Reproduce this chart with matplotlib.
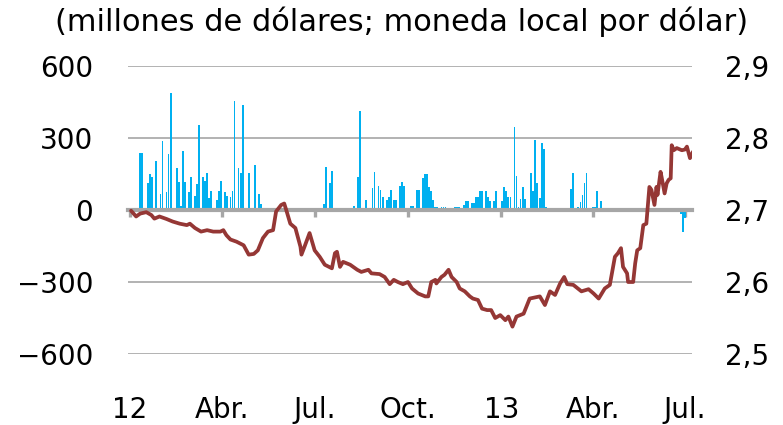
import pandas as pd
import matplotlib
matplotlib.use("Agg")
import matplotlib.pyplot as plt

plt.rcParams["font.family"] = ["DejaVu Sans"]

# days counted from 2012-01-01
base_date = pd.Timestamp("2012-01-01")

# net flows, millions of dollars (left axis)
flow_day = [10, 12, 18, 20, 22, 26, 30, 32, 36, 38, 40, 46, 48, 50, 52, 54, 58, 60,
            64, 66, 68, 72, 74, 76, 78, 80, 86, 88, 90, 94, 96, 99, 101, 103, 107,
            109, 111, 117, 123, 127, 129,
            191, 193, 197, 199, 221, 225, 227, 233, 239, 241, 245, 247, 249, 253,
            255, 257, 260, 262, 266, 268, 270, 277, 279, 283, 285, 289, 291, 293,
            295, 297, 299, 301, 303, 307, 309, 311, 320, 322, 324, 329, 331, 333,
            337, 339, 341, 343, 345, 347, 351, 353, 355, 359, 361, 367, 369, 371,
            373, 375, 379, 381, 383, 385, 387, 389, 395, 397, 399, 401, 404, 406,
            408, 410, 413, 418, 422, 427, 435, 437, 442, 444, 446, 448, 450, 456,
            458, 460, 464, 468, 470, 543, 545, 547]
flow_value = [239, 239, 114, 149, 139, 205, 65, 288, 74, 232, 486, 174, 115, 17, 247,
              115, 74, 139, 58, 107, 354, 139, 122, 156, 49, 81, 40, 81, 122, 74, 58,
              56, 81, 456, 174, 156, 438, 156, 189, 65, 25,
              24, 180, 114, 164, 17, 139, 412, 42, 90, 157, 100, 83, 56, 42,
              56, 83, 42, 42, 100, 115, 100, 17, 17, 83, 83, 132, 150, 150,
              97, 80, 42, 11, 11, 11, 11, 11, 11, 11, 11, 22, 39, 39,
              28, 28, 53, 53, 78, 78, 78, 53, 39, 39, 78, 36, 94, 78,
              53, 53, 344, 143, 11, 46, 94, 46, 153, 81, 292, 111, 50, 278,
              253, 11, 4, 4, 4, 4, 87, 153, 14, 35, 62, 111, 156, 14,
              14, 81, 39, 5, 5, -15, -90, -35]

# exchange rate, local currency per dollar (right axis)
rate_day = [1, 6, 10, 16, 21, 24, 29, 36, 42, 49, 56, 59, 64, 70, 76, 82, 89, 92, 95,
            99, 105, 112, 117, 122, 126, 131, 136, 141, 144, 149, 152, 154, 158, 163,
            168, 169, 172, 177, 182, 187, 192, 199, 202, 204, 207, 210, 217, 224,
            228, 235, 238, 246, 251, 256, 260, 264, 269, 274, 278, 284, 291, 294,
            297, 301, 302, 307, 310, 314, 317, 322, 325, 330, 335, 338, 343, 347,
            352, 356, 360, 365, 370, 373, 377, 381, 388, 394, 404, 409, 414, 419,
            424, 428, 431, 437, 445, 452, 457, 462, 468, 473, 478, 481, 484, 486,
            490, 491, 496, 498, 500, 503, 506, 509, 512, 514, 517, 519, 520, 523,
            524, 527, 529, 531, 533, 534, 536, 539, 544, 547, 549, 552, 555]
rate_value = [2.699, 2.691, 2.695, 2.697, 2.693, 2.688, 2.691, 2.6875, 2.684, 2.681,
              2.679, 2.681, 2.675, 2.670, 2.672, 2.670, 2.670, 2.672, 2.665, 2.659,
              2.656, 2.651, 2.638, 2.639, 2.644, 2.661, 2.670, 2.672, 2.698, 2.707,
              2.709, 2.700, 2.681, 2.675, 2.649, 2.638, 2.649, 2.668, 2.644, 2.635,
              2.624, 2.619, 2.640, 2.642, 2.621, 2.628, 2.624, 2.617, 2.614, 2.617,
              2.612, 2.611, 2.607, 2.597, 2.603, 2.600, 2.597, 2.600, 2.591, 2.584,
              2.580, 2.580, 2.600, 2.603, 2.598, 2.607, 2.610, 2.617, 2.607, 2.600,
              2.591, 2.587, 2.580, 2.577, 2.575, 2.563, 2.561, 2.561, 2.550, 2.554,
              2.547, 2.552, 2.538, 2.552, 2.556, 2.577, 2.580, 2.568, 2.587, 2.582,
              2.598, 2.607, 2.597, 2.596, 2.587, 2.590, 2.584, 2.577, 2.591, 2.596,
              2.635, 2.640, 2.647, 2.621, 2.612, 2.600, 2.600, 2.626, 2.644, 2.647,
              2.679, 2.681, 2.732, 2.728, 2.707, 2.732, 2.721, 2.753, 2.746, 2.723,
              2.737, 2.742, 2.744, 2.790, 2.783, 2.786, 2.783, 2.784, 2.788, 2.772,
              2.781]

tick_dates = ["2012-01-01", "2012-04-01", "2012-07-01", "2012-10-01",
              "2013-01-01", "2013-04-01", "2013-07-01"]
tick_labels = ["12", "Abr.", "Jul.", "Oct.", "13", "Abr.", "Jul."]
left_ticks = [-600, -300, 0, 300, 600]
left_labels = ["\u2212600", "\u2212300", "0", "300", "600"]
right_ticks = [2.5, 2.6, 2.7, 2.8, 2.9]
right_labels = ["2,5", "2,6", "2,7", "2,8", "2,9"]
title = "(millones de dólares; moneda local por dólar)"

grey = "#A6A6A6"
bar_color = "#00B0F0"
line_color = "#953735"

flow_dates = base_date + pd.to_timedelta(flow_day, unit="D")
rate_dates = base_date + pd.to_timedelta(rate_day, unit="D")

fig = plt.figure(figsize=(7.83, 4.25), dpi=100)
ax = fig.add_axes([128 / 783, 71 / 425, 564 / 783, 288 / 425])

ax.bar(flow_dates, flow_value, width=1.8, color=bar_color, linewidth=0, zorder=2)
ax.set_ylim(-600, 600)
ax.set_xlim(base_date - pd.Timedelta(days=2), base_date + pd.Timedelta(days=554))
ax.set_yticks(left_ticks, labels=left_labels)
ax.yaxis.grid(True, color=grey, linewidth=1.2, zorder=0)
ax.set_axisbelow(True)
for side in ["top", "left", "right"]:
    ax.spines[side].set_visible(False)
ax.spines["bottom"].set_position(("data", 0))
ax.spines["bottom"].set_color(grey)
ax.spines["bottom"].set_linewidth(3)
ax.spines["bottom"].set_zorder(3)
ax.set_xticks(pd.to_datetime(tick_dates), labels=tick_labels)
ax.tick_params(axis="x", direction="out", length=5, width=2.4, color=grey,
               labelbottom=False)
ax.tick_params(axis="y", length=0, pad=25, labelsize=20)

ax2 = ax.twinx()
ax2.plot(rate_dates, rate_value, color=line_color, linewidth=2.7,
         solid_joinstyle="round", solid_capstyle="round")
ax2.set_ylim(2.5, 2.9)
ax2.set_yticks(right_ticks, labels=right_labels)
ax2.tick_params(axis="y", length=0, pad=24, labelsize=20)
for side in ax2.spines:
    ax2.spines[side].set_visible(False)
# use the twin's bottom axis for the date labels
ax2.xaxis.set_visible(True)
ax2.tick_params(axis="x", length=0, pad=30, labelsize=20, labelbottom=True)

fig.text(55 / 783, 1 - 22 / 425, title, fontsize=22, va="center", ha="left")

fig.savefig("out.png", dpi=100)
